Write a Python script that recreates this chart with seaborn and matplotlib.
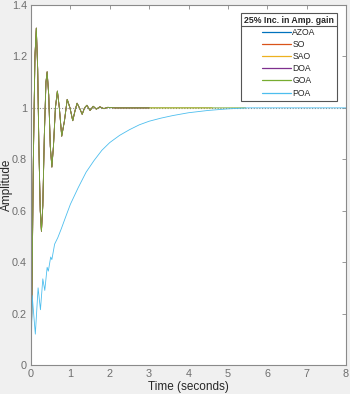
import numpy as np
import pandas as pd
import matplotlib
matplotlib.use("Agg")
import matplotlib.pyplot as plt
import seaborn as sns
from matplotlib.lines import Line2D

# ---- data ----
series_names = ["AZOA", "SO", "SAO", "DOA", "GOA", "POA"]
series_colors = ["#0072BD", "#D95319", "#EDB120", "#7E2F8E", "#77AC30", "#4DBEEE"]

t_osc = [0.0, 0.03, 0.06, 0.10, 0.135, 0.17, 0.20, 0.235, 0.265, 0.30, 0.34, 0.38,
         0.41, 0.45, 0.49, 0.53, 0.57, 0.62, 0.67, 0.72, 0.78, 0.85, 0.92, 0.99,
         1.06, 1.12, 1.17, 1.23, 1.30, 1.36, 1.42, 1.50, 1.58, 1.66, 1.75, 1.85,
         1.95, 2.13]
y_osc = [0.0, 0.35, 0.80, 1.20, 1.31, 1.15, 0.85, 0.60, 0.52, 0.62, 0.90, 1.10,
         1.14, 1.05, 0.85, 0.77, 0.85, 1.00, 1.065, 1.00, 0.89, 0.95, 1.033, 1.00,
         0.95, 0.99, 1.018, 1.00, 0.975, 1.00, 1.01, 0.99, 1.006, 0.995, 1.004, 0.997,
         1.002, 1.0]

t_azoa = t_osc + [3.0]
y_azoa = y_osc + [1.0]
t_so = t_osc + [3.0]
y_so = y_osc + [1.0]
t_sao = t_osc + [4.6]
y_sao = y_osc + [1.0]
t_doa = t_osc + [3.0]
y_doa = y_osc + [1.0]
t_goa = t_osc + [5.45]
y_goa = y_osc + [1.0]

t_poa = [0.0, 0.03, 0.11, 0.18, 0.24, 0.30, 0.35, 0.41, 0.44, 0.50, 0.53, 0.60,
         0.68, 0.77, 0.89, 1.00, 1.20, 1.40, 1.60, 1.80, 2.00, 2.25, 2.50, 2.75,
         3.00, 3.30, 3.60, 4.00, 4.50, 5.00, 5.50, 8.00]
y_poa = [0.0, 0.27, 0.12, 0.30, 0.215, 0.335, 0.29, 0.38, 0.365, 0.42, 0.41, 0.47,
         0.495, 0.53, 0.58, 0.625, 0.69, 0.75, 0.795, 0.835, 0.865, 0.893, 0.915, 0.934,
         0.948, 0.96, 0.97, 0.981, 0.99, 0.996, 1.0, 1.0]

x_ticks = [0, 1, 2, 3, 4, 5, 6, 7, 8]
y_ticks = [0, 0.2, 0.4, 0.6, 0.8, 1.0, 1.2, 1.4]
y_tick_labels = ["0", "0.2", "0.4", "0.6", "0.8", "1", "1.2", "1.4"]
legend_title = "25% Inc. in Amp. gain"
x_label = "Time (seconds)"
y_label = "Amplitude"
final_value = 1.0

# ---- build long-form table ----
all_t = [t_azoa, t_so, t_sao, t_doa, t_goa, t_poa]
all_y = [y_azoa, y_so, y_sao, y_doa, y_goa, y_poa]
frames = []
for name, tt, yy in zip(series_names, all_t, all_y):
    frames.append(pd.DataFrame({"t": tt, "y": yy, "series": name}))
df = pd.concat(frames, ignore_index=True)

sns.set_theme(style="white")
plt.rcParams["font.family"] = ["Liberation Sans", "DejaVu Sans"]

fig = plt.figure(figsize=(3.5, 3.94), dpi=100, facecolor="#f0f0f0")
ax = fig.add_axes([31/350, 29/394, 315/350, 360/394])
ax.set_facecolor("white")

# final value dotted line
ax.axhline(final_value, color="#8c8c8c", lw=0.8, ls=(0, (1, 1.5)), zorder=1)

palette = dict(zip(series_names, series_colors))
sns.lineplot(data=df, x="t", y="y", hue="series", hue_order=series_names,
             palette=palette, estimator=None, units="series", sort=False,
             linewidth=0.6, ax=ax, zorder=2)

ax.set_xlim(0, 8)
ax.set_ylim(0, 1.4)
ax.set_xticks(x_ticks)
ax.set_xticklabels([str(v) for v in x_ticks])
ax.set_yticks(y_ticks)
ax.set_yticklabels(y_tick_labels)
ax.tick_params(axis="both", which="both", direction="in", length=3, width=0.6,
               colors="#888888", labelcolor="#6e6e6e", labelsize=7.8,
               top=True, right=True, labeltop=False, labelright=False, pad=3)
ax.set_xlabel(x_label, fontsize=8.5, color="#262626", labelpad=1)
ax.set_ylabel(y_label, fontsize=8.5, color="#262626")
ax.yaxis.set_label_coords(-18.5/315, 0.5)
for s in ax.spines.values():
    s.set_visible(True)
    s.set_color("#8a8a8a")
    s.set_linewidth(0.8)

handles = [Line2D([], [], color=c, lw=0.9) for c in series_colors]
leg = ax.legend(handles, series_names, title=legend_title, loc="upper right",
                bbox_to_anchor=(0.971, 0.978), fontsize=6.2, title_fontsize=6.3,
                frameon=True, fancybox=False, framealpha=1, edgecolor="#555555",
                handlelength=3.4, handletextpad=0.12, labelspacing=0.36,
                borderpad=0.35, borderaxespad=0, alignment="center")
leg.get_title().set_fontweight("bold")
leg.get_frame().set_linewidth(0.8)
leg.set_zorder(5)

fig.canvas.draw()
r = fig.canvas.get_renderer()
lb = leg.get_window_extent(r)
tb = leg.get_title().get_window_extent(r)
ysep = tb.y0 - 1.5
inv = fig.transFigure.inverted()
(x0f, yf), (x1f, _) = inv.transform([(lb.x0, ysep), (lb.x1, ysep)])
fig.add_artist(Line2D([x0f, x1f], [yf, yf], color="#555555", lw=0.8,
                      transform=fig.transFigure, zorder=10))

fig.savefig("out.png", dpi=100, facecolor=fig.get_facecolor())
